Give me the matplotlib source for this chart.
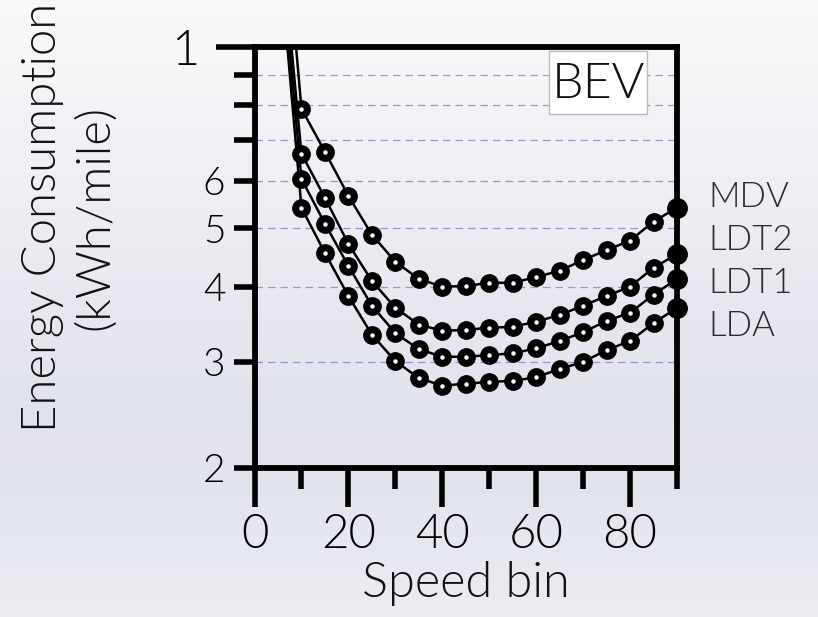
import numpy as np
import matplotlib
matplotlib.use('agg')
from matplotlib import pyplot as plt
from matplotlib import ticker
from matplotlib.patches import Rectangle

# speed bins (mph) and energy use (kWh/mile)
speed = [5, 10, 15, 20, 25, 30, 35, 40, 45, 50, 55, 60, 65, 70, 75, 80, 85, 90]
mdv = [22.0, 7.90, 6.70, 5.66, 4.88, 4.40, 4.12, 4.00, 4.01, 4.06, 4.06, 4.15, 4.25, 4.43, 4.60, 4.77, 5.13, 5.41]
ldt2 = [17.3, 6.65, 5.62, 4.71, 4.09, 3.69, 3.46, 3.38, 3.39, 3.42, 3.43, 3.50, 3.59, 3.72, 3.86, 4.00, 4.30, 4.53]
ldt1 = [16.1, 6.04, 5.09, 4.33, 3.72, 3.35, 3.15, 3.06, 3.06, 3.08, 3.10, 3.16, 3.25, 3.36, 3.51, 3.62, 3.88, 4.12]
lda = [15.1, 5.41, 4.55, 3.86, 3.33, 3.01, 2.82, 2.74, 2.76, 2.78, 2.79, 2.83, 2.92, 3.00, 3.14, 3.25, 3.48, 3.69]
series_names = ['MDV', 'LDT2', 'LDT1', 'LDA']
series = [mdv, ldt2, ldt1, lda]

x_major = [0, 20, 40, 60, 80]
x_minor = [10, 30, 50, 70, 90]
y_minor = [2, 3, 4, 5, 6, 7, 8, 9]
y_minor_labels = {2: '2', 3: '3', 4: '4', 5: '5', 6: '6'}
y_grid = [3, 4, 5, 6, 7, 8, 9]

plt.rcParams['font.family'] = ['Lato', 'DejaVu Sans']
plt.rcParams['font.weight'] = 300

W, H = 818, 617
fig = plt.figure(figsize=(W / 100, H / 100), dpi=100)

# soft grey/lavender backdrop
bg = fig.add_axes([0, 0, 1, 1], zorder=-10)
stops_y = [0.0, 0.3, 0.65, 0.8, 1.0]
stops_c = [(0.98, 0.98, 0.985), (0.935, 0.935, 0.955), (0.885, 0.89, 0.925), (0.89, 0.895, 0.93), (0.925, 0.93, 0.95)]
t = np.linspace(0, 1, 256)
grad = np.stack([np.interp(t, stops_y, [c[k] for c in stops_c]) for k in range(3)], axis=-1)
bg.imshow(grad[:, None, :], aspect='auto', extent=[0, 1, 0, 1], origin='upper')
bg.axis('off')

ax = fig.add_axes([254.5 / W, 1 - 468 / H, (677 - 254.5) / W, (468 - 47) / H])
ax.set_facecolor('none')
ax.set_yscale('log')
ax.set_xlim(0, 90)
ax.set_ylim(2, 10)

for yv in y_grid:
    ax.axhline(yv, color='#8484c0', lw=0.9, dashes=(6, 4), alpha=0.8, zorder=1)

for vals in series:
    ax.plot(speed[:-1], vals[:-1], color='black', lw=1.8, marker='o', markersize=12.5,
            markerfacecolor='black', markeredgecolor='black', zorder=3)
    ax.plot(speed[-2:], vals[-2:], color='black', lw=1.8, zorder=3)
    ax.plot(speed[1:-1], vals[1:-1], ls='none', marker='o', markersize=2.2,
            markerfacecolor='white', markeredgecolor='white', zorder=4)
    ax.plot(speed[-1], vals[-1], ls='none', marker='o', markersize=14,
            color='black', clip_on=False, zorder=6)

for side in ['left', 'right', 'top', 'bottom']:
    ax.spines[side].set_linewidth(4.2)
    ax.spines[side].set_zorder(5)

ax.xaxis.set_major_locator(ticker.FixedLocator(x_major))
ax.xaxis.set_minor_locator(ticker.FixedLocator(x_minor))
ax.xaxis.set_major_formatter(ticker.FixedFormatter([str(v) for v in x_major]))
ax.xaxis.set_minor_formatter(ticker.NullFormatter())
ax.tick_params(axis='x', which='major', direction='out', length=28, width=4, pad=5, labelsize=34, colors='black')
ax.tick_params(axis='x', which='minor', direction='out', length=15, width=4)

ax.yaxis.set_major_locator(ticker.FixedLocator([10]))
ax.yaxis.set_major_formatter(ticker.FixedFormatter(['1']))
ax.yaxis.set_minor_locator(ticker.FixedLocator(y_minor))
ax.yaxis.set_minor_formatter(ticker.FuncFormatter(lambda v, p: y_minor_labels.get(int(round(v)), '')))
ax.tick_params(axis='y', which='major', direction='out', length=28, width=4, pad=12, labelsize=35)
ax.tick_params(axis='y', which='minor', direction='out', length=15, width=4, pad=6, labelsize=28)

# BEV tag box
fig.patches.append(Rectangle((549 / W, 1 - 114 / H), 98 / W, 63 / H, transform=fig.transFigure,
                             facecolor='white', edgecolor='#bbbbbb', lw=1, zorder=7))
fig.text(598 / W, 1 - 84 / H, 'BEV', ha='center', va='center', fontsize=36, color='#111111', zorder=8)

# series names at the right edge
label_y = [197, 240, 283, 326]
for name, py in zip(series_names, label_y):
    fig.text(708 / W, 1 - py / H, name, ha='left', va='center', fontsize=25, color='#2a2a2a')

fig.text(466 / W, 1 - 583 / H, 'Speed bin', ha='center', va='center', fontsize=35, color='#111111')
fig.text(69 / W, 1 - 217 / H, 'Energy Consumption\n(kWh/mile)', rotation=90, ha='center', va='center',
         multialignment='center', fontsize=34, linespacing=1.3, color='#111111')

plt.savefig('out.png', dpi=100)
